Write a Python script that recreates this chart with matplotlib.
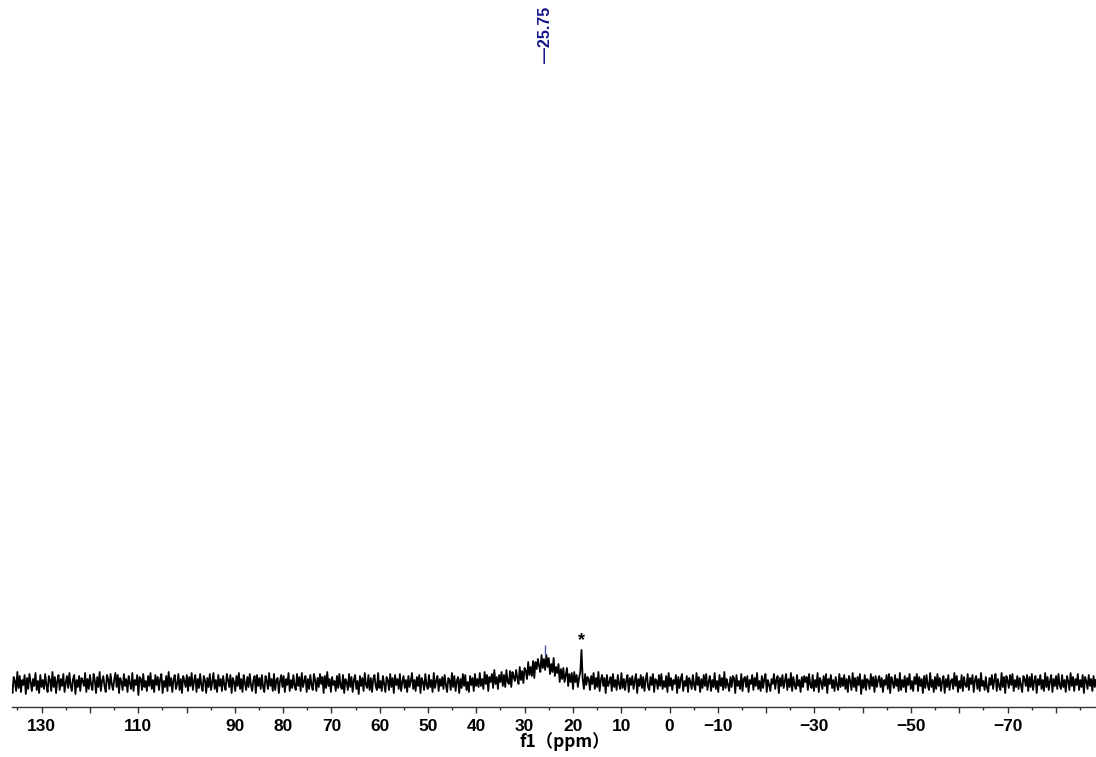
import matplotlib
matplotlib.use("Agg")
import matplotlib.pyplot as plt
import numpy as np

plt.rcParams['font.family'] = ['Liberation Sans', 'DejaVu Sans']

# 基线噪声（相对强度）
noise = [
    4, -7, 9, -3, -10, 6, 2, -8, 11, -5, 7, -9, 3, -2, 8, -11, 5, -6, 9, 1, -8, 4, -3, 10, -7, 2, -10, 8, -4, 3,
    -6, 9, -2, -9, 7, 3, -8, 11, -4, 6, -10, 2, 8, -7, 4, -3, 9, -9, 0, 7, -5, 10, -2, -8, 4, 8, -11, 3, -4, 7,
    -8, 5, 2, -3, 10, -9, 4, -6, 8, -2, -7, 9, 3, -10, 6, -4, 11, -8, 2, 7, -3, -9, 8, 4, -6, 9, -1, -7, 3, 10,
    -4, 8, -10, 5, 1, -7, 9, -3, 4, -9, 7, 0, -6, 10, -8, 3, -2, 8, -12, 6, 4, -7, 9, -4, 2, -8, 7, -3, 10, -6,
    3, -9, 8, -2, 6, -7, 4, 9, -10, 2, -4, 7, -8, 11, -3, 5, -9, 3, 8, -6, -1, 9, -7, 4, -10, 7, 2, -4, 8, -8,
    6, -3, 10, -7, 2, 8, -9, 4, -5, 9, -2, -8, 7, 3, -10, 5, -4, 9, -7, 1, 10, -6, 3, -9, 8, -3, 4, -8, 7, -2,
    -7, 9, 3, -4, 8, -10, 5, 1, -8, 7, -3, 10, -6, 4, -9, 8, 0, -7, 6, -4, 9, -2, -8, 3, 7, -10, 8, -3, 5, -6,
    8, -4, -9, 7, 2, -6, 10, -3, 4, -8, 9, -7, 3, 5, -10, 2, 8, -4, 7, -9, 4, -2, 10, -8, 3, -5, 8, -3, -7, 9,
    -3, 6, -8, 10, -4, 2, 7, -9, 4, -6, 8, -2, -7, 9, 3, -8, 5, -4, 9, -1, 6, -10, 7, -5, 11, -3, 4, -9, 6, -2,
    2, -8, 7, -5, 9, -3, -6, 8, -10, 4, 1, -7, 9, -4, 6, -9, 3, 8, -6, 2, -11, 7, -3, 5, -8, 10, -2, -5, 8, -7,
    5, -9, 4, 8, -3, -7, 10, -5, 2, -8, 7, -1, -9, 6, 3, -7, 9, -4, 5, -10, 8, -2, 4, -6, 9, -8, 1, 7, -5, 3,
    -9, 7, -4, 2, 10, -6, 3, -8, 6, -3, 8, -10, 5, 1, -7, 9, -2, -6, 8, -4, 3, -9, 10, -5, 2, 7, -8, 4, -3, 6,
    -6, 8, -2, -9, 5, 3, -7, 10, -4, 7, -8, 2, 6, -10, 4, -5, 9, -3, 8, -7, 1, -9, 7, -2, 5, -8, 9, -4, 3, -6,
    8, -5, 2, -8, 9, -3, 6, -10, 4, -1, 7, -7, 10, -4, 3, -9, 5, -2, 8, -6, 4, -8, 9, -3, -5, 7, -9, 6, 1, -4,
    7, -2, -8, 9, -5, 4, -9, 6, 2, -7, 10, -4, 3, -6, 8, -10, 5, -3, 7, -1, -8, 9, -5, 4, -7, 8, -3, 6, -9, 2,
    -5, 10, -7, 3, -2, 8, -9, 5, -4, 7, -6, 2, 9, -8, 4, -3, 6, -10, 8, -2, 5, -7, 3, 9, 1, 2, -8, 7, -4, 5,
    3, -8, 6, -2, 9, -7, 4, -5, 10, -9, 2, 7, -4, 5, -10, 8, -3, 1, 6, -8, 9, -4, 3, -7, 8, -1, -6, 10, -5, 4,
    -7, 3, 8, -9, 5, -2, 7, -6, 2, 9, -10, 4, -3, 8, -5, 6, -8, 3, 10, -4, -7, 6, -2, 9, -9, 4, 2, -6, 8, -3,
    9, -6, 2, -4, 7, -9, 10, -3, 5, -7, 3, -1, 8, -10, 6, -5, 4, 9, -8, 2, -3, 7, -9, 5, 1, -6, 8, -2, -7, 10,
    -2, 6, -9, 4, -5, 8, -3, 9, -7, 1, 7, -8, 3, -4, 10, -6, 2, -9, 8, -3, 5, -7, 11, -5, 4, -2, -8, 6, -4, 7,
    5, -10, 8, -3, 2, -6, 9, -8, 4, 6, -4, 7, -9, 3, -1, 8, -7, 5, -3, 10, -6, 2, -8, 7, -5, 4, 9, -9, 3, -2,
    -8, 4, -1, 9, -6, 3, 7, -10, 5, -3, 8, -5, 2, 9, -7, 4, -4, 10, -8, 6, -2, -6, 8, -3, 3, -9, 6, -4, 7, 1,
    6, -7, 9, -2, -5, 8, -8, 3, -4, 10, -9, 5, 1, -6, 7, -3, 9, -10, 4, -1, 8, -5, 3, -8, 6, -2, -7, 9, -4, 5,
    -3, 8, -6, 4, -9, 7, 2, -7, 10, -4, 5, -8, 6, -2, 9, -11, 3, -5, 8, -7, 4, 2, -6, 9, -3, 6, -9, 7, -4, 3,
    7, -4, 5, -9, 3, -2, 8, -6, 9, -10, 6, 1, -5, 8, -3, 4, -8, 10, -7, 3, -4, 7, -9, 5, -2, 9, -6, 2, -8, 6,
    -1, 9, -8, 6, -3, 4, -10, 7, -5, 8, -2, -7, 10, -4, 3, -9, 6, -6, 9, -3, 5, -8, 2, 7, -10, 4, -4, 8, -7, 2,
    4, -6, 10, -3, 7, -9, 2, -5, 8, -8, 6, -2, -4, 9, -7, 5, -1, 8, -9, 3, 7, -6, 4, -8, 10, -3, 2, -7, 6, -5,
    -9, 5, -2, 8, -6, 3, 9, -8, 4, -3, -7, 10, -4, 6, -10, 7, 2, -5, 8, -2, 9, -8, 3, -4, 7, -6, 5, -2, -9, 7,
    4, -3, 8, -8, 6, -4, 9, -7, 2, 7, -10, 4, -2, 8, -6, 3, -8, 10, -4, 6, -7, 2, 8, -9, 4, -3, 7, -6, 9, -2,
    -6, 8, -4, 3, -9, 7, 2, -7, 10, -3, 6, -8, 4, -2, 9, -7, 3, -4, 8, -10, 6, 2, -6, 8, -3, 4, -8, 7, -4, 3,
]
ppm_start, ppm_end = 137.04, -88.3

# 宽峰 (约40 ~ 13 ppm) 及 18 ppm 处杂质尖峰，从第 signal_start 个点起叠加
signal_start = 387
signal = [
    1, 1, 2, 2, 2, 2, 2, 2, 2, 2,
    2, 2, 2, 2, 2, 3, 3, 3, 3, 3,
    3, 3, 3, 4, 4, 4, 4, 4, 5, 5,
    5, 5, 6, 6, 7, 7, 7, 8, 8, 9,
    9, 10, 11, 11, 12, 13, 13, 14, 15, 16,
    17, 17, 18, 19, 19, 20, 20, 20,
    20, 19, 19, 18, 17, 16, 15, 14, 13, 12,
    11, 10, 9, 8, 8, 7, 6, 6, 5, 5,
    4, 4, 4, 3, 3, 3, 3, 2, 2, 32,
    2, 2, 2, 2, 1, 1, 1, 1, 1, 1,
    1, 1, 1, 1, 1, 1, 1, 1,
]

# 峰标注
peak_ppm = 25.75
peak_top = 28
impurity_ppm = 18.22

# 坐标轴刻度
major_ticks = list(range(130, -90, -10))
labelled = [130, 110, 90, 80, 70, 60, 50, 40, 30, 20, 10, 0, -10, -30, -50, -70]
minor_ticks = list(range(135, -90, -5))

intensity = np.array(noise, dtype=float)
intensity[signal_start:signal_start + len(signal)] += signal
ppm = np.linspace(ppm_start, ppm_end, len(intensity))

fig = plt.figure(figsize=(10.96, 7.57), dpi=100)
ax = fig.add_axes([11.7 / 1096, 50 / 757, 1 - 11.7 / 1096, 707 / 757])

ax.plot(ppm, intensity, color='black', linewidth=1.3)

ax.set_xlim(136.2, -88.3)
ax.set_ylim(-24, 683)

# 只保留底部坐标轴
for side in ['left', 'right', 'top']:
    ax.spines[side].set_visible(False)
ax.spines['bottom'].set_linewidth(1.0)
ax.spines['bottom'].set_color('#333333')
ax.set_yticks([])

ax.set_xticks(major_ticks)
ax.set_xticklabels([('\u2212' + str(-t) if t < 0 else str(t)) if t in labelled else '' for t in major_ticks],
                   fontsize=12.5, fontweight='bold')
ax.set_xticks(minor_ticks, minor=True)
ax.tick_params(axis='x', which='major', direction='out', length=4.5, width=1, color='#333333', pad=4)
ax.tick_params(axis='x', which='minor', direction='out', length=2.5, width=1, color='#333333')

fig.text(520 / 1096, 1 - 751 / 757, 'f1（ppm）', family=['Noto Sans CJK SC', 'DejaVu Sans'],
         fontsize=12.5, fontweight='bold', ha='left', va='bottom')

# 化学位移标注
ax.vlines(peak_ppm, peak_top, peak_top + 10, color='#5050b0', linewidth=1)
ax.text(peak_ppm, 683 - 63, '\u201425.75', rotation=90, color='#14148c', fontsize=11.5,
        fontweight='bold', ha='center', va='bottom')

# 杂质峰
ax.text(impurity_ppm, 38, '*', fontsize=13, fontweight='bold', ha='center', va='baseline')

fig.savefig('out.png', dpi=100)
